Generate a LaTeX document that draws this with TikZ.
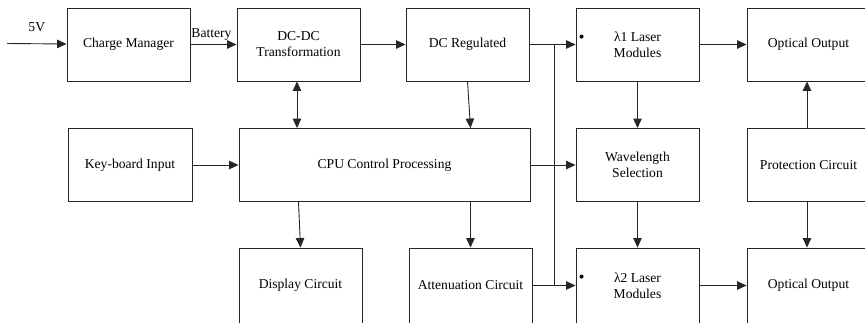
\documentclass[tikz,border=0pt]{standalone}
\usepackage{fontspec}
\setmainfont{Liberation Serif}
\usetikzlibrary{arrows.meta}

\begin{document}
\begin{tikzpicture}[x=1pt, y=-1pt,
  blk/.style={draw=black!85, line width=0.9pt, minimum width=123pt, minimum height=73pt,
    align=center, inner sep=2pt, font=\fontsize{13.6}{16}\selectfont},
  arr/.style={draw=black!85, line width=0.9pt, -{Triangle[length=9.5pt,width=8.5pt]}},
  lbl/.style={font=\fontsize{13.6}{16}\selectfont, inner sep=1pt}]

\useasboundingbox (0,0) rectangle (865,322);
\clip (0,0) rectangle (865,322);

% top row
\node[blk] (charge) at (128.5,44.5) {Charge Manager};
\node[blk] (dcdc) at (298.5,44.5) {DC-DC\\Transformation};
\node[blk] (dcreg) at (467.5,44.5) {DC Regulated};
\node[blk] (laserA) at (637.5,44.5) {λ1 Laser\\Modules};
\node[blk] (outA) at (808.5,44.5) {Optical Output};

% middle row
\node[blk, minimum width=124pt] (keyin) at (130,165) {Key-board Input};
\node[blk, minimum width=291pt] (cpu) at (384.5,165) {CPU Control Processing};
\node[blk] (wave) at (637.5,165) {Wavelength\\Selection};
\node[blk] (prot) at (808.5,165) {Protection Circuit};

% bottom row
\node[blk, minimum height=75pt] (disp) at (300.5,285.5) {Display Circuit};
\node[blk, minimum height=75pt] (atten) at (470.5,285.5) {Attenuation Circuit};
\node[blk, minimum height=75pt] (laserB) at (637.5,285.5) {λ2 Laser\\Modules};
\node[blk, minimum height=75pt] (outB) at (808.5,285.5) {Optical Output};

\fill[black] ([xshift=6pt,yshift=-29pt]laserA.north west) circle[radius=2pt];
\fill[black] ([xshift=6pt,yshift=-29pt]laserB.north west) circle[radius=2pt];

% power path
\coordinate (vin) at (7,43.5);
\draw[arr] (vin) -- node[lbl, above=11pt] {5V} (charge);
\draw[arr] (charge) -- node[lbl, above=3pt, xshift=-2pt] {Battery} (dcdc);
\draw[arr] (dcdc) -- (dcreg);
\draw[arr] (dcreg) -- (laserA);
\coordinate (jn) at (554,44.5);
\draw[draw=black!85, line width=0.9pt] (jn) -- (jn |- laserB.west);
\draw[arr] (atten) -- (laserB);

% control
\draw[arr, {Triangle[length=9.5pt,width=8.5pt]}-{Triangle[length=9.5pt,width=8.5pt]}] ([xshift=-1.5pt]dcdc.south) -- ([xshift=-1.5pt]dcdc.south |- cpu.north);
\draw[arr] (dcreg.south) -- (atten.north |- cpu.north);
\draw[arr] (keyin) -- (cpu);
\draw[arr] (dcdc.south |- cpu.south) -- (disp.north);
\draw[arr] (atten.north |- cpu.south) -- (atten.north);
\draw[arr] (cpu.east |- wave.west) -- (wave.west);

% optical path
\draw[arr] (laserA) -- (wave);
\draw[arr] (wave) -- (laserB);
\draw[arr] (laserA) -- (outA);
\draw[arr] (laserB) -- (outB);
\draw[arr] ([xshift=-1.5pt]prot.north) -- ([xshift=-1.5pt]outA.south);
\draw[arr] ([xshift=-1.5pt]prot.south) -- ([xshift=-1.5pt]outB.north);
\end{tikzpicture}
\end{document}
